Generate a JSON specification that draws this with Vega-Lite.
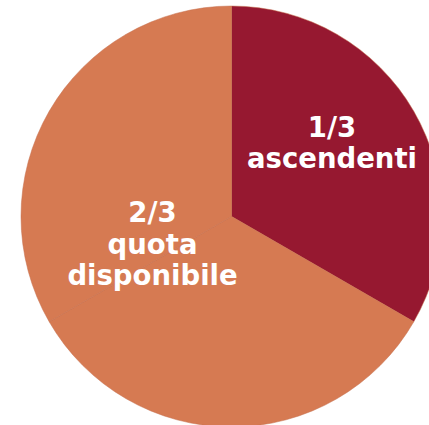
{
  "$schema": "https://vega.github.io/schema/vega-lite/v6.json",
  "width": 463,
  "height": 433,
  "padding": 0,
  "background": "white",
  "config": {"view": {"stroke": null}},
  "resolve": {"scale": {"theta": "independent"}},
  "layer": [
    {
      "data": {"values": [
        {"parte": "ascendenti", "quota": 1},
        {"parte": "quota disponibile", "quota": 1},
        {"parte": "quota disponibile", "quota": 1}
      ]},
      "mark": {"type": "arc", "radius": 210.5, "stroke": "#c46d4a", "strokeWidth": 0.5},
      "encoding": {
        "theta": {"field": "quota", "type": "quantitative", "stack": true},
        "color": {
          "field": "parte",
          "type": "nominal",
          "scale": {"domain": ["ascendenti", "quota disponibile"], "range": ["#961830", "#d67a52"]},
          "legend": null
        }
      }
    },
    {
      "data": {"values": [
        {"share": "1/3", "label": "1/3\nascendenti", "quota": 1},
        {"share": "2/3", "label": "2/3\nquota\ndisponibile", "quota": 2}
      ]},
      "mark": {
        "type": "text",
        "lineBreak": "\n",
        "font": "DejaVu Sans",
        "fontWeight": "bold",
        "fontSize": 27.5,
        "lineHeight": 31.5,
        "align": "center",
        "baseline": "middle",
        "color": "white",
        "radius": 99.3,
        "dx": 10.75,
        "dy": -45
      },
      "encoding": {
        "theta": {
          "field": "quota",
          "type": "quantitative",
          "stack": true,
          "scale": {"domain": [0, 3], "range": [0.0813, 6.3645]}
        },
        "text": {"field": "label"}
      }
    }
  ]
}
